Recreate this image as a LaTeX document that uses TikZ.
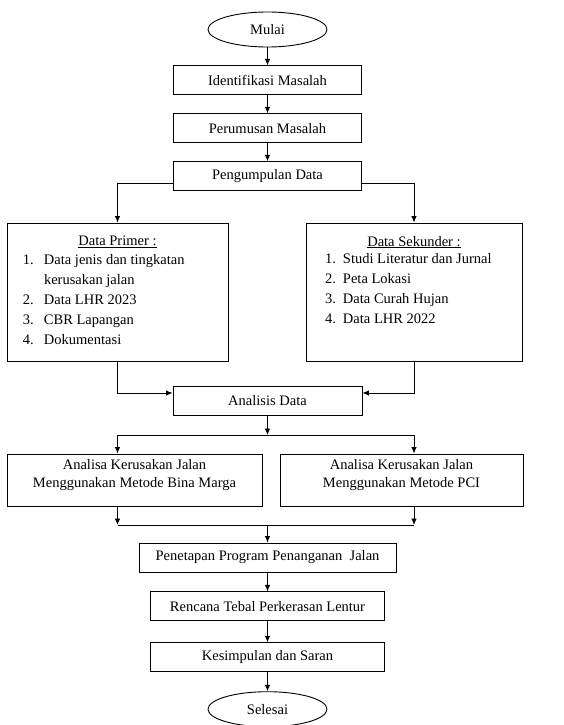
\documentclass[tikz,border=0pt]{standalone}
\usepackage{fontspec}
\setmainfont{Liberation Serif}
\usetikzlibrary{backgrounds}
\usetikzlibrary{arrows.meta, shapes.geometric, positioning}

\begin{document}
\begin{tikzpicture}[x=1pt, y=1pt, line width=0.9pt, show background rectangle, inner frame sep=0pt, background rectangle/.style={fill=white}, color=black,
  font=\fontsize{14.5}{20}\selectfont, >={Latex[length=6.5pt,width=5.5pt]},
  box/.style={draw,rectangle,minimum height=29pt,inner sep=2pt},
  oval/.style={draw,ellipse,minimum width=119pt,minimum height=35pt,inner sep=0pt}]
\useasboundingbox (0,0) rectangle (563,-725);

\node[oval] (a) at (267.5,-29.5) {Mulai};
\node[box,minimum width=188pt,below=18pt of a] (b) {Identifikasi Masalah};
\node[box,minimum width=188pt,below=18pt of b] (c) {Perumusan Masalah};
\node[box,minimum width=188pt,below=18pt of c] (d) {Pengumpulan Data};

\node[draw,rectangle,inner sep=0pt,minimum width=221pt,minimum height=138pt] (e) at (117.5,-292) {%
  \begin{minipage}[c][112pt][t]{205pt}
  \centering\underline{Data Primer :}\par\vspace{2pt}\raggedright
  \hspace*{8pt}\begin{tabular}{@{}p{21pt}@{}l@{}}
  1. & Data jenis dan tingkatan\\
     & kerusakan jalan\\
  2. & Data LHR 2023\\
  3. & CBR Lapangan\\
  4. & Dokumentasi
  \end{tabular}
  \end{minipage}};
\node[draw,rectangle,inner sep=0pt,minimum width=216pt,minimum height=138pt] (f) at (414,-292) {%
  \begin{minipage}[c][112pt][t]{200pt}
  \centering\underline{Data Sekunder :}\par\raggedright
  \hspace*{11pt}\begin{tabular}{@{}p{18pt}@{}l@{}}
  1. & Studi Literatur dan Jurnal\\
  2. & Peta Lokasi\\
  3. & Data Curah Hujan\\
  4. & Data LHR 2022
  \end{tabular}
  \end{minipage}};

\node[box,minimum width=189pt] (g) at (267.5,-401) {Analisis Data};
\node[box,minimum width=255pt,minimum height=52pt,align=center,font=\fontsize{14.5}{17.5}\selectfont] (h) at (134.5,-480) {Analisa Kerusakan Jalan\\Menggunakan Metode Bina Marga\\[-4pt]};
\node[box,minimum width=243pt,minimum height=52pt,align=center,font=\fontsize{14.5}{17.5}\selectfont] (i) at (401.5,-480) {Analisa Kerusakan Jalan\\Menggunakan Metode PCI\\[-4pt]};

\node[box,minimum width=257pt] (k) at (267.5,-557.5) {Penetapan Program Penanganan~ Jalan};
\node[box,minimum width=234pt,below=19pt of k] (l) {Rencana Tebal Perkerasan Lentur};
\node[box,minimum width=234pt,below=21pt of l] (m) {Kesimpulan dan Saran};
\node[oval,below=19pt of m] (n) {Selesai};

\coordinate (j1) at (267.5,-435);
\coordinate (j2) at (267.5,-525);

% arrows
\draw [->] (a) -- (b);
\draw [->] (b) -- (c);
\draw [->] (c) -- (d);
\draw [->] ([yshift=-7.5pt]d.west) -| (e.north);
\draw [->] ([yshift=-7.5pt]d.east) -| (f.north);
\draw [->] (e.south) |- ([yshift=8pt]g.west);
\draw [->] (f.south) |- ([yshift=8pt]g.east);
\draw [->] (g) -- (j1);
\draw [->] (j1) -| (e.south |- h.north);
\draw [->] (j1) -| (f.south |- i.north);
\draw [->] (e.south |- h.south) -- (e.south |- j2);
\draw [->] (f.south |- i.south) -- (f.south |- j2);
\draw (e.south |- j2) -- (f.south |- j2);
\draw [->] (j2) -- (k);
\draw [->] (k) -- (l);
\draw [->] (l) -- (m);
\draw [->] (m) -- (n);

\end{tikzpicture}
\end{document}
